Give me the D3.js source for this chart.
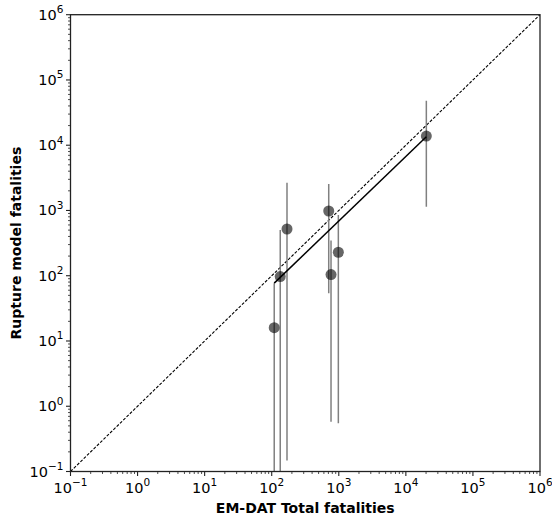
<!DOCTYPE html>
<html>
<head>
<meta charset="utf-8">
<script src="https://cdn.jsdelivr.net/npm/d3@7"></script>
<style>
  html, body { margin: 0; padding: 0; background: #fff; }
  svg { display: block; font-family: "DejaVu Sans", sans-serif; }
</style>
</head>
<body>
<svg id="chart" width="552" height="520"></svg>
<script>
// Observed vs modelled fatalities per event
const emdat      = [109, 134, 169, 708, 766, 985, 20200];
const modelled   = [16, 97, 520, 982, 104, 229, 13800];
const errLow     = [0.01, 0.01, 0.147, 54, 0.58, 0.55, 1140];
const errHigh    = [77, 500, 2667, 2547, 347, 853, 48000];
// Regression line end points (x, y)
const fitX = [109, 20200];
const fitY = [77, 13500];
// Decade exponents for tick labels
const tickExponents = [-1, 0, 1, 2, 3, 4, 5, 6];

const svg = d3.select("#chart");
const plotLeft = 70.5, plotRight = 540, plotTop = 14.7, plotBottom = 471.5;

const x = d3.scaleLog().domain([0.1, 1e6]).range([plotLeft, plotRight]);
const y = d3.scaleLog().domain([0.1, 1e6]).range([plotBottom, plotTop]);

const majors = tickExponents.map(e => Math.pow(10, e));
const minors = [];
for (let e = -1; e < 6; e++) for (let k = 2; k <= 9; k++) minors.push(k * Math.pow(10, e));

const expText = e => (e < 0 ? "\u2212" + Math.abs(e) : String(e));

// Plot clip
svg.append("defs").append("clipPath").attr("id", "plotclip")
  .append("rect").attr("x", plotLeft).attr("y", plotTop)
  .attr("width", plotRight - plotLeft).attr("height", plotBottom - plotTop);

const plot = svg.append("g").attr("clip-path", "url(#plotclip)");

// 1:1 reference line
plot.append("line")
  .attr("x1", x(0.1)).attr("y1", y(0.1)).attr("x2", x(1e6)).attr("y2", y(1e6))
  .attr("stroke", "#000").attr("stroke-width", 1.1).attr("stroke-dasharray", "3,1.6");

// Error bars
plot.selectAll("line.err").data(emdat).join("line")
  .attr("class", "err")
  .attr("x1", d => x(d)).attr("x2", d => x(d))
  .attr("y1", (d, i) => y(errLow[i])).attr("y2", (d, i) => y(errHigh[i]))
  .attr("stroke", "#808080").attr("stroke-width", 1.5);

// Fit line
plot.append("line")
  .attr("x1", x(fitX[0])).attr("y1", y(fitY[0])).attr("x2", x(fitX[1])).attr("y2", y(fitY[1]))
  .attr("stroke", "#000").attr("stroke-width", 1.5);

// Points
plot.selectAll("circle").data(emdat).join("circle")
  .attr("cx", d => x(d)).attr("cy", (d, i) => y(modelled[i]))
  .attr("r", 5.5)
  .attr("fill", "#000").attr("fill-opacity", 0.6);

// Frame
svg.append("rect").attr("x", plotLeft).attr("y", plotTop)
  .attr("width", plotRight - plotLeft).attr("height", plotBottom - plotTop)
  .attr("fill", "none").attr("stroke", "#222").attr("stroke-width", 1.3);

// X axis ticks
const xAxis = svg.append("g");
xAxis.selectAll("line.maj").data(majors).join("line").attr("class", "maj")
  .attr("x1", d => x(d)).attr("x2", d => x(d)).attr("y1", plotBottom).attr("y2", plotBottom + 4.5)
  .attr("stroke", "#222").attr("stroke-width", 1.1);
xAxis.selectAll("line.min").data(minors).join("line").attr("class", "min")
  .attr("x1", d => x(d)).attr("x2", d => x(d)).attr("y1", plotBottom).attr("y2", plotBottom + 2.5)
  .attr("stroke", "#222").attr("stroke-width", 0.8);
const xl = xAxis.selectAll("text").data(tickExponents).join("text")
  .attr("x", e => x(Math.pow(10, e))).attr("y", plotBottom + 21)
  .attr("text-anchor", "middle").attr("font-size", 14.5).attr("fill", "#000");
xl.append("tspan").text("10");
xl.append("tspan").attr("dy", -6.5).attr("font-size", 10.5).text(e => expText(e));

// Y axis ticks
const yAxis = svg.append("g");
yAxis.selectAll("line.maj").data(majors).join("line").attr("class", "maj")
  .attr("y1", d => y(d)).attr("y2", d => y(d)).attr("x1", plotLeft).attr("x2", plotLeft - 4.5)
  .attr("stroke", "#222").attr("stroke-width", 1.1);
yAxis.selectAll("line.min").data(minors).join("line").attr("class", "min")
  .attr("y1", d => y(d)).attr("y2", d => y(d)).attr("x1", plotLeft).attr("x2", plotLeft - 2.5)
  .attr("stroke", "#222").attr("stroke-width", 0.8);
const yl = yAxis.selectAll("text").data(tickExponents).join("text")
  .attr("x", plotLeft - 7).attr("y", e => y(Math.pow(10, e)) + 5)
  .attr("text-anchor", "end").attr("font-size", 14.5).attr("fill", "#000");
yl.append("tspan").text("10");
yl.append("tspan").attr("dy", -6.5).attr("font-size", 10.5).text(e => expText(e));

// Axis titles
svg.append("text").attr("x", (plotLeft + plotRight) / 2).attr("y", 513)
  .attr("text-anchor", "middle").attr("font-size", 14).attr("font-weight", "bold")
  .text("EM-DAT Total fatalities");
svg.append("text").attr("transform", `translate(21,${(plotTop + plotBottom) / 2}) rotate(-90)`)
  .attr("text-anchor", "middle").attr("font-size", 14).attr("font-weight", "bold")
  .text("Rupture model fatalities");
</script>
</body>
</html>
